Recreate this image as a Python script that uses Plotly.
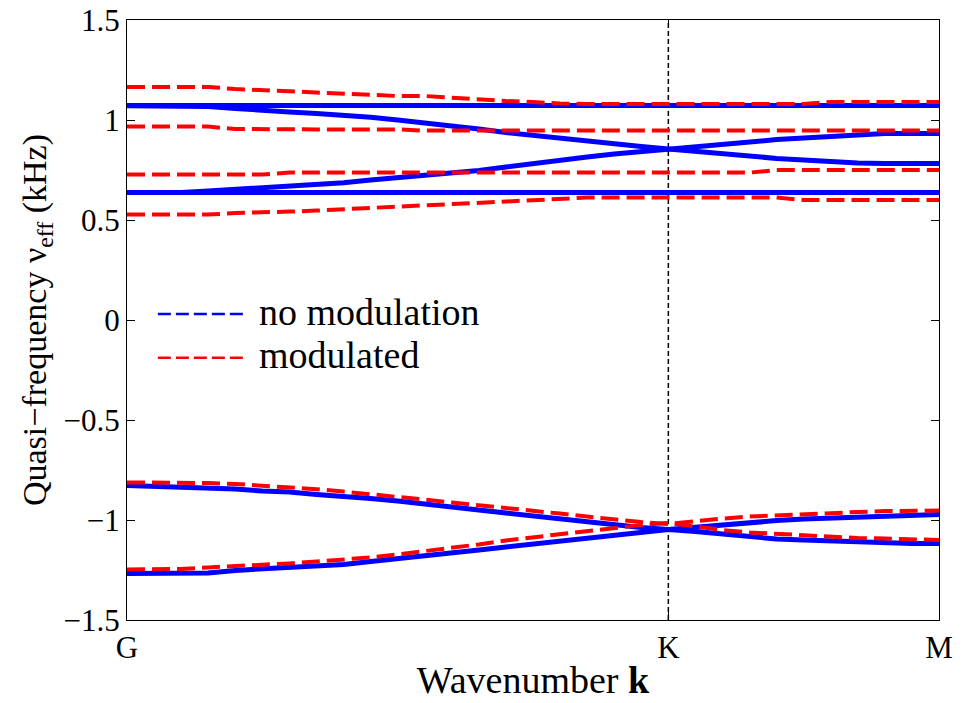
import plotly.graph_objects as go

# k path G -> K -> M (|KM| = |GK| / 2)
k = [0.0, 0.05, 0.1, 0.15, 0.2, 0.25, 0.3, 0.35, 0.4, 0.45, 0.5, 0.55, 0.6, 0.65, 0.7,
     0.75, 0.8, 0.85, 0.9, 0.95, 1.0, 1.05, 1.1, 1.15, 1.2, 1.25, 1.3, 1.35, 1.4, 1.45, 1.5]
k_flat = [0.0, 1.5]
k_ticks = [0.0, 1.0, 1.5]
k_labels = ['G', 'K', 'M']

# no modulation (blue)
nomod_flat_hi = [1.072, 1.072]
nomod_flat_lo = [0.637, 0.637]
nomod_up_a = [1.071, 1.071, 1.070, 1.067, 1.058, 1.047, 1.040, 1.033, 1.025, 1.014, 1.000,
              0.987, 0.970, 0.955, 0.937, 0.922, 0.908, 0.895, 0.883, 0.868, 0.855,
              0.842, 0.830, 0.818, 0.808, 0.800, 0.790, 0.785, 0.783, 0.782, 0.782]
nomod_up_b = [0.637, 0.637, 0.638, 0.645, 0.652, 0.660, 0.667, 0.674, 0.686, 0.700, 0.712,
              0.722, 0.735, 0.748, 0.765, 0.783, 0.800, 0.815, 0.830, 0.842, 0.855,
              0.870, 0.883, 0.893, 0.902, 0.910, 0.918, 0.925, 0.932, 0.932, 0.932]
nomod_lo_a = [-0.828, -0.833, -0.837, -0.837, -0.845, -0.855, -0.860, -0.872, -0.880, -0.893, -0.905,
              -0.918, -0.935, -0.950, -0.965, -0.980, -0.995, -1.010, -1.025, -1.037, -1.047,
              -1.035, -1.022, -1.012, -1.003, -0.995, -0.990, -0.985, -0.978, -0.972, -0.972]
nomod_lo_b = [-1.267, -1.267, -1.267, -1.265, -1.252, -1.245, -1.238, -1.230, -1.222, -1.208, -1.195,
              -1.180, -1.165, -1.150, -1.135, -1.120, -1.105, -1.090, -1.075, -1.060, -1.047,
              -1.058, -1.070, -1.085, -1.095, -1.100, -1.105, -1.110, -1.117, -1.117, -1.117]

# modulated (red)
mod_1 = [1.165, 1.165, 1.165, 1.165, 1.155, 1.150, 1.145, 1.140, 1.130, 1.125, 1.120,
         1.120, 1.110, 1.100, 1.095, 1.090, 1.082, 1.080, 1.080, 1.080, 1.080,
         1.080, 1.080, 1.080, 1.080, 1.080, 1.090, 1.090, 1.090, 1.090, 1.090]
mod_2 = [0.967, 0.967, 0.967, 0.967, 0.955, 0.953, 0.953, 0.953, 0.953, 0.953, 0.953,
         0.947, 0.947, 0.947, 0.947, 0.947, 0.947, 0.947, 0.947, 0.947, 0.947,
         0.947, 0.947, 0.947, 0.947, 0.947, 0.947, 0.947, 0.947, 0.947, 0.947]
mod_3 = [0.727, 0.727, 0.727, 0.727, 0.727, 0.727, 0.738, 0.737, 0.737, 0.737, 0.737,
         0.737, 0.737, 0.737, 0.737, 0.737, 0.737, 0.737, 0.737, 0.737, 0.737,
         0.737, 0.737, 0.737, 0.750, 0.750, 0.750, 0.750, 0.750, 0.750, 0.750]
mod_4 = [0.527, 0.527, 0.527, 0.527, 0.535, 0.537, 0.542, 0.547, 0.555, 0.562, 0.567,
         0.573, 0.580, 0.587, 0.593, 0.600, 0.607, 0.612, 0.612, 0.612, 0.612,
         0.612, 0.612, 0.612, 0.612, 0.600, 0.600, 0.600, 0.600, 0.600, 0.600]
mod_5 = [-0.812, -0.812, -0.812, -0.815, -0.820, -0.827, -0.835, -0.846, -0.858, -0.870, -0.885,
         -0.898, -0.912, -0.925, -0.940, -0.953, -0.968, -0.983, -0.998, -1.010, -1.020,
         -1.005, -0.993, -0.983, -0.976, -0.970, -0.965, -0.960, -0.955, -0.953, -0.953]
mod_6 = [-1.247, -1.247, -1.245, -1.237, -1.232, -1.224, -1.217, -1.208, -1.198, -1.187, -1.172,
         -1.156, -1.138, -1.122, -1.102, -1.087, -1.068, -1.053, -1.037, -1.025, -1.015,
         -1.035, -1.050, -1.062, -1.070, -1.077, -1.083, -1.090, -1.093, -1.097, -1.100]

y_ticks = [-1.5, -1, -0.5, 0, 0.5, 1, 1.5]
y_labels = ['−1.5', '−1', '−0.5', '0', '0.5', '1', '1.5']

blue = 'rgb(0, 0, 255)'
red = 'rgb(255, 0, 0)'
font = 'Liberation Serif'

fig = go.Figure()

for xs, ys in [(k_flat, nomod_flat_hi), (k_flat, nomod_flat_lo), (k, nomod_up_a),
               (k, nomod_up_b), (k, nomod_lo_a), (k, nomod_lo_b)]:
    fig.add_trace(go.Scatter(x=xs, y=ys, mode='lines', showlegend=False,
                             line=dict(color=blue, width=5)))

for ys in [mod_1, mod_2, mod_3, mod_4, mod_5, mod_6]:
    fig.add_trace(go.Scatter(x=k, y=ys, mode='lines', showlegend=False,
                             line=dict(color=red, width=4, dash='18px,7px')))

# dashed marker line at K
fig.add_shape(type='line', xref='x', yref='paper', x0=k_ticks[1], x1=k_ticks[1], y0=0, y1=1,
              line=dict(color='black', width=1.5, dash='5px,3px'), layer='below')

# legend drawn by hand (no box, like the matlab one)
legend_items = [('no modulation', blue, 0.510), ('modulated', red, 0.437)]
for name, col, yy in legend_items:
    fig.add_shape(type='line', xref='paper', yref='paper', x0=0.038, x1=0.145, y0=yy, y1=yy,
                  line=dict(color=col, width=2.5, dash='13px,5px'))
    fig.add_annotation(xref='paper', yref='paper', x=0.160, y=yy + 0.004, text=name,
                       xanchor='left', yanchor='middle', showarrow=False,
                       font=dict(family=font, size=38, color='black'))

# the page body has an 8px margin, so the plot box is pulled up/left by that much
fig.update_layout(
    width=963, height=703,
    paper_bgcolor='white', plot_bgcolor='white',
    margin=dict(l=119, r=32, t=12, b=91),
    font=dict(family=font, size=31, color='black'),
    xaxis=dict(
        range=[0, 1.5], tickmode='array', tickvals=k_ticks, ticktext=k_labels,
        ticks='inside', ticklen=8, tickcolor='black', showgrid=False, zeroline=False,
        showline=True, linecolor='black', linewidth=1.2, mirror='ticks', automargin=False,
        ticklabeloverflow='allow', tickfont=dict(family=font, size=31),
        title=dict(text='Wavenumber <b>k</b>', font=dict(family=font, size=38), standoff=2),
    ),
    yaxis=dict(
        range=[-1.5, 1.5], tickmode='array', tickvals=y_ticks, ticktext=y_labels,
        ticks='inside', ticklen=8, tickcolor='black', showgrid=False, zeroline=False,
        showline=True, linecolor='black', linewidth=1.2, mirror='ticks', automargin=False,
        ticklabeloverflow='allow', tickfont=dict(family=font, size=31),
        title=dict(text='Quasi−frequency ν<sub>eff</sub> (kHz)', font=dict(family=font, size=34),
                   standoff=6),
    ),
    showlegend=False,
)

fig.write_html('out.html')
